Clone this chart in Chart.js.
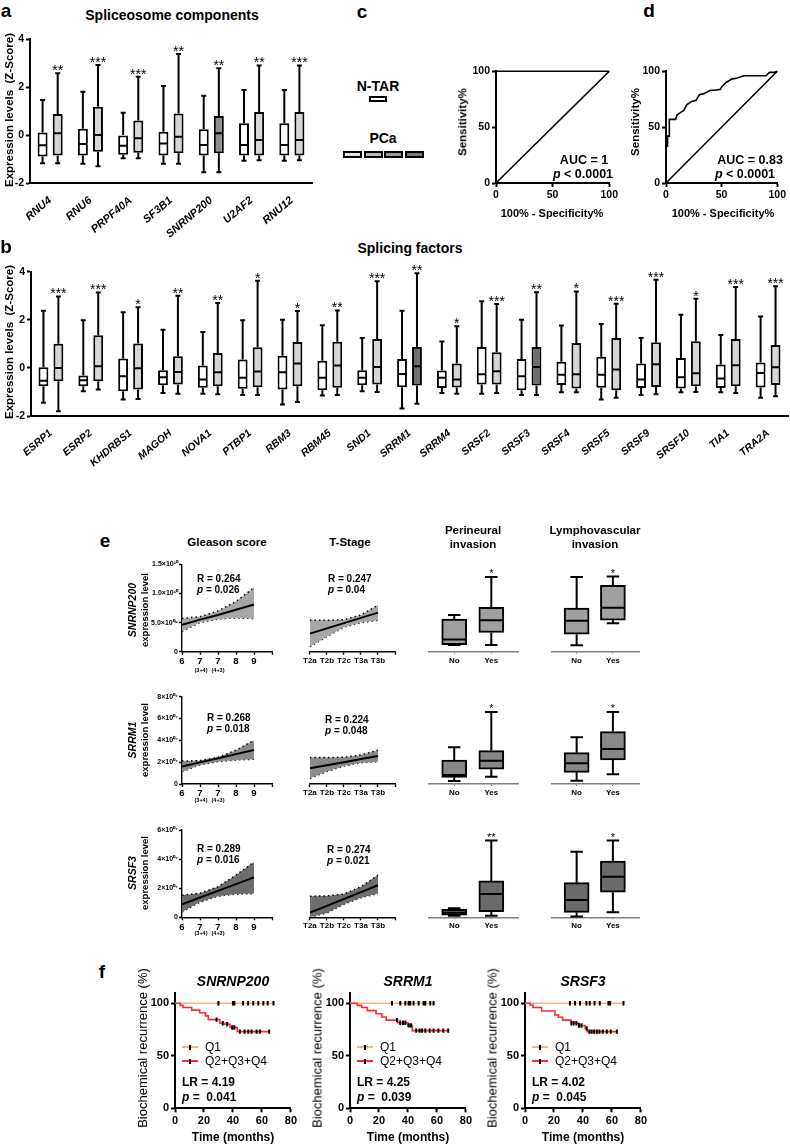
<!DOCTYPE html>
<html>
<head>
<meta charset="utf-8">
<script src="https://cdn.jsdelivr.net/npm/chart.js@4.4.1/dist/chart.umd.min.js"></script>
<style>
  body { margin: 0; background: #fff; font-family: "Liberation Sans", Arial, sans-serif; color: #000; }
  #fig { position: relative; width: 790px; height: 1147px; overflow: hidden; }
  canvas { position: absolute; }
  .t { position: absolute; white-space: nowrap; line-height: 1; }
  .sw { position: absolute; box-sizing: border-box; }
</style>
</head>
<body>
<div id="fig"></div>
<script>
/* ===== a: spliceosome components, Z-score [min, q1, median, q3, max] ===== */
const aGenes = ["RNU4", "RNU6", "PRPF40A", "SF3B1", "SNRNP200", "U2AF2", "RNU12"];
const aNtar = [
  [-1.18, -0.9, -0.43, 0.1, 1.46],
  [-1.2, -0.85, -0.37, 0.26, 1.8],
  [-0.97, -0.82, -0.45, 0.0, 0.93],
  [-1.2, -0.85, -0.35, 0.14, 2.04],
  [-1.55, -0.85, -0.42, 0.24, 1.64],
  [-1.07, -0.85, -0.42, 0.49, 1.87],
  [-1.07, -0.85, -0.42, 0.49, 1.87]
];
const aPca = [
  [-1.18, -0.85, 0.07, 0.87, 2.57],
  [-1.3, -0.7, 0.0, 1.18, 2.92],
  [-0.97, -0.74, -0.14, 0.6, 2.43],
  [-1.2, -0.76, -0.07, 0.9, 3.37],
  [-1.55, -0.76, 0.07, 0.79, 2.78],
  [-1.05, -0.85, -0.21, 0.96, 2.9],
  [-1.05, -0.85, -0.21, 0.96, 2.9]
];
const aStars = ["**", "***", "***", "**", "**", "**", "***"];

/* ===== b: splicing factors ===== */
const bGenes = ["ESRP1", "ESRP2", "KHDRBS1", "MAGOH", "NOVA1", "PTBP1", "RBM3", "RBM45", "SND1", "SRRM1",
  "SRRM4", "SRSF2", "SRSF3", "SRSF4", "SRSF5", "SRSF9", "SRSF10", "TIA1", "TRA2A"];
const bNtar = [
  [-1.45, -0.76, -0.53, 0.03, 2.38],
  [-0.97, -0.76, -0.51, -0.32, 1.98],
  [-1.31, -0.97, -0.35, 0.39, 2.31],
  [-1.04, -0.72, -0.39, -0.1, 1.59],
  [-1.07, -0.83, -0.48, 0.1, 1.49],
  [-1.13, -0.87, -0.41, 0.35, 1.98],
  [-1.52, -0.9, -0.18, 0.51, 2.0],
  [-1.15, -0.93, -0.41, 0.3, 1.77],
  [-0.97, -0.72, -0.41, -0.1, 1.24],
  [-1.69, -0.8, -0.25, 0.37, 2.38],
  [-1.04, -0.84, -0.41, -0.11, 1.1],
  [-1.08, -0.69, -0.26, 0.87, 2.77],
  [-1.13, -0.93, -0.35, 0.37, 2.0],
  [-1.01, -0.71, -0.28, 0.26, 1.76],
  [-1.31, -0.83, -0.29, 0.46, 1.83],
  [-1.13, -0.84, -0.48, 0.18, 1.24],
  [-1.01, -0.86, -0.39, 0.41, 2.21],
  [-1.01, -0.84, -0.44, 0.14, 1.37],
  [-1.24, -0.82, -0.21, 0.22, 2.14]
];
const bPca = [
  [-1.8, -0.55, 0.0, 1.0, 2.97],
  [-0.9, -0.55, 0.07, 1.36, 3.14],
  [-1.29, -0.9, -0.01, 1.01, 2.52],
  [-1.07, -0.69, -0.17, 0.48, 3.0],
  [-1.1, -0.76, -0.18, 0.62, 2.7],
  [-1.13, -0.8, -0.15, 0.86, 3.62],
  [-1.42, -0.76, 0.18, 1.08, 2.37],
  [-1.13, -0.83, 0.1, 1.09, 2.39],
  [-1.0, -0.69, 0.04, 1.2, 3.6],
  [-1.49, -0.73, 0.07, 0.87, 3.94],
  [-1.08, -0.82, -0.48, 0.18, 1.73],
  [-1.04, -0.69, -0.14, 0.65, 2.66],
  [-1.13, -0.73, 0.04, 0.87, 3.15],
  [-1.01, -0.86, -0.26, 1.04, 3.18],
  [-1.24, -0.93, -0.07, 1.24, 2.67],
  [-1.1, -0.79, 0.15, 1.07, 3.67],
  [-1.0, -0.76, -0.22, 1.11, 2.88],
  [-1.04, -0.76, 0.11, 1.2, 3.36],
  [-1.18, -0.71, 0.03, 0.95, 3.39]
];
const bStars = ["***", "***", "*", "**", "**", "*", "*", "**", "***", "**", "*", "***", "**", "*", "***", "***", "*", "***", "***"];
const zTicks = [-2, 0, 2, 4];

/* ===== c, d: ROC curves (%) ===== */
const rocTicks = [0, 50, 100];
const cFpr = [0, 0, 100];
const cTpr = [0, 100, 100];
const dFpr = [0, 0, 1.4, 1.4, 3, 3, 5, 8.6, 10, 13, 16, 18.6, 23, 27, 30, 34, 40, 44, 49, 50, 54, 59, 64, 70, 81, 90, 93, 97, 100];
const dTpr = [0, 33, 33, 42, 42, 57, 57, 57, 61, 63, 65, 70, 73, 74, 79, 80, 83, 83, 84, 86, 90, 93, 94, 96, 96, 96, 99, 99, 100];
const chance = [0, 100];

/* ===== e: clinical correlations ===== */
const gleasonTicks = ["6", "7", "7", "8", "9", ""];
const stageTicks = ["T2a", "T2b", "T2c", "T3a", "T3b", ""];
const trendX = [0, 1, 2, 3, 4];
const invGroups = ["No", "Yes"];
// SNRNP200, units of 10^9
const snrnpYTicks = ["0", "5.0×10⁰⁹", "1.0×10¹⁰", "1.5×10¹⁰"];
const snrnpGleFit = [4.6, 5.5, 6.3, 7.2, 8.1];
const snrnpGleUp = [5.7, 6.0, 7.0, 8.6, 11.0];
const snrnpGleLo = [3.5, 5.0, 5.6, 5.8, 5.7];
const snrnpStgFit = [3.1, 4.0, 4.9, 5.8, 6.7];
const snrnpStgUp = [5.4, 5.4, 5.5, 6.3, 8.0];
const snrnpStgLo = [0.85, 2.6, 4.2, 5.0, 5.4];
const snrnpPeri = [[1.15, 1.2, 2.1, 5.6, 6.3], [1.15, 3.3, 5.4, 7.6, 12.8]];
const snrnpLymph = [[1.1, 3.0, 5.3, 7.5, 12.8], [4.9, 5.4, 7.55, 11.4, 12.9]];
// SRRM1, units of 10^7
const srrmYTicks = ["0", "2×10⁰⁷", "4×10⁰⁷", "6×10⁰⁷", "8×10⁰⁷"];
const srrmGleFit = [1.6, 1.98, 2.36, 2.74, 3.12];
const srrmGleUp = [2.1, 2.15, 2.45, 3.1, 4.0];
const srrmGleLo = [1.13, 1.75, 2.05, 2.2, 2.27];
const srrmStgFit = [1.44, 1.72, 2.0, 2.29, 2.57];
const srrmStgUp = [2.42, 2.42, 2.45, 2.65, 3.1];
const srrmStgLo = [0.52, 1.15, 1.65, 1.95, 2.05];
const srrmPeri = [[0.28, 0.61, 0.83, 2.2, 3.37], [0.67, 1.35, 2.14, 3.06, 6.6]];
const srrmLymph = [[0.3, 1.07, 1.9, 2.87, 4.28], [0.89, 2.2, 3.21, 4.8, 6.6]];
// SRSF3, units of 10^7
const srsfYTicks = ["0", "2×10⁰⁷", "4×10⁰⁷", "6×10⁰⁷"];
const srsfGleFit = [0.9, 1.36, 1.82, 2.28, 2.74];
const srsfGleUp = [1.52, 1.65, 2.1, 2.9, 3.8];
const srsfGleLo = [0.37, 1.05, 1.45, 1.6, 1.63];
const srsfStgFit = [0.32, 0.79, 1.26, 1.73, 2.2];
const srsfStgUp = [1.45, 1.47, 1.6, 2.1, 2.9];
const srsfStgLo = [0, 0.3, 0.9, 1.35, 1.63];
const srsfPeri = [[0.1, 0.14, 0.32, 0.55, 0.62], [0.1, 0.39, 1.6, 2.5, 5.27]];
const srsfLymph = [[0.05, 0.34, 1.19, 2.38, 4.5], [0.34, 1.72, 2.78, 3.86, 5.27]];
const periStars = [["", "*"], ["", "*"], ["", "**"]];
const lymphStars = [["", "*"], ["", "*"], ["", "*"]];

/* ===== f: Kaplan-Meier, biochemical recurrence (%) ===== */
const kmXTicks = [0, 20, 40, 60, 80];
const kmYTicks = [0, 50, 100];
const snrnpKmT = [0, 3.5, 5.5, 11.5, 17, 21, 23, 31, 34.5, 38, 43, 65];
const snrnpKmS = [100, 98, 96, 93.5, 91, 88, 84.5, 81, 80, 77, 73, 73];
const snrnpQ1End = 68;
const snrnpQ1Cens = [30, 40, 41, 47, 50.5, 54, 57.5, 61, 64, 68];
const snrnpCensT = [28.7, 33, 36, 39.5, 41, 44.8, 48, 50.6, 52.9, 56.3, 58.6, 65];
const snrnpCensS = [84.5, 81, 80, 77, 77, 73, 73, 73, 73, 73, 73, 73];
const srrmKmT = [0, 5, 8, 12, 18, 22, 25, 33, 40, 43, 68];
const srrmKmS = [100, 98, 96, 93, 90, 87, 84, 81.5, 79, 74, 74];
const srrmQ1End = 58.6;
const srrmQ1Cens = [29, 34.7, 38.2, 40.5, 41.6, 43.9, 47.4, 50.8, 52, 55.4, 57.7];
const srrmCensT = [32.4, 34.7, 36.6, 38.2, 40.5, 42.1, 45.7, 48, 49.7, 52, 55, 57.7, 61, 64.4, 67.8];
const srrmCensS = [84, 81.5, 81.5, 81.5, 79, 79, 74, 74, 74, 74, 74, 74, 74, 74, 74];
const srsfKmT = [0, 3.5, 5.5, 11.5, 20.7, 23, 26, 32, 37, 41.5, 43, 63.4];
const srsfKmS = [100, 98.4, 96, 92.7, 89, 86.7, 84, 81, 78.8, 76, 73, 73];
const srsfQ1End = 68;
const srsfQ1Cens = [31, 34.5, 38, 42.4, 44.7, 48, 51.6, 57.6, 58.8, 68];
const srsfCensT = [32, 33.6, 35.5, 37.3, 39, 42.6, 44.5, 46, 47.7, 49.6, 51.4, 53.7, 56.5, 59.2, 63.4];
const srsfCensS = [81, 81, 81, 78.8, 78.8, 76, 73, 73, 73, 73, 73, 73, 73, 73, 73];

/* ===== Helpers ===== */
Chart.defaults.font.family = '"Liberation Sans", Arial, sans-serif';
Chart.defaults.color = "#000";
Chart.defaults.animation = false;
Chart.defaults.events = [];
Chart.defaults.plugins.legend.display = false;
Chart.defaults.plugins.tooltip.enabled = false;

const fig = document.getElementById("fig");
const Q1C = "#f4b483", REDC = "#ff2b2b";
const geneShade = { SNRNP200: "#8e8e8e", SRRM1: "#6f6f6f", SRSF3: "#6f6f6f" };

// whiskers, medians and stars on top of floating bars
const boxPlot = {
  id: "boxPlot",
  afterDatasetsDraw(chart) {
    const ctx = chart.ctx, y = chart.scales.y;
    chart.data.datasets.forEach((ds, i) => {
      if (!ds.whiskers) return;
      chart.getDatasetMeta(i).data.forEach((bar, j) => {
        const [mn, q1, md, q3, mx] = ds.whiskers[j].map(v => y.getPixelForValue(v));
        const x = bar.x, hw = bar.width / 2, cap = bar.width * ds.capRatio;
        ctx.save();
        ctx.strokeStyle = "#000"; ctx.lineWidth = ds.borderWidth;
        ctx.beginPath();
        ctx.moveTo(x, q3); ctx.lineTo(x, mx);
        ctx.moveTo(x - cap, mx); ctx.lineTo(x + cap, mx);
        ctx.moveTo(x, q1); ctx.lineTo(x, mn);
        ctx.moveTo(x - cap, mn); ctx.lineTo(x + cap, mn);
        ctx.moveTo(x - hw + 1, md); ctx.lineTo(x + hw - 1, md);
        ctx.stroke();
        if (ds.stars && ds.stars[j]) {
          ctx.fillStyle = "#000";
          ctx.font = ds.starSize + 'px "Liberation Sans", Arial, sans-serif';
          ctx.textAlign = "center"; ctx.textBaseline = "alphabetic";
          ctx.fillText(ds.stars[j], x, mx + ds.starShift);
        }
        ctx.restore();
      });
    });
  }
};
Chart.register(boxPlot);

// area = plot box on the page [x0, y0, x1, y1], m = room for axes [l, t, r, b]
function canvasFor(area, m) {
  const left = Math.floor(area[0] - m[0]), top = Math.floor(area[1] - m[1]);
  const w = Math.ceil(area[2] + m[2]) - left, h = Math.ceil(area[3] + m[3]) - top;
  const c = document.createElement("canvas");
  c.width = w; c.height = h;
  Object.assign(c.style, { left: left + "px", top: top + "px", width: w + "px", height: h + "px" });
  fig.appendChild(c);
  return { c, l: area[0] - left, t: area[1] - top, r: left + w - area[2], b: top + h - area[3] };
}

function draw(area, m, type, data, scales, showY) {
  const k = canvasFor(area, m);
  scales.x.afterFit = s => { s.height = k.b; };
  if (showY) scales.y.afterFit = s => { s.width = k.l; };
  return new Chart(k.c, {
    type, data,
    options: {
      responsive: false, maintainAspectRatio: false,
      layout: { autoPadding: false, padding: { left: showY ? 0 : k.l, top: k.t, right: k.r, bottom: 0 } },
      scales
    }
  });
}

const tickGrid = (len, w, color = "#000") => ({ display: true, offset: false, drawOnChartArea: false, drawTicks: true, tickLength: len, tickWidth: w, tickColor: color });
const bold = size => ({ weight: "bold", size });
const fixedTicks = list => s => { s.ticks = list.map(v => ({ value: v })); };

function txt(html, x, y, css, anchor = "c") {
  const d = document.createElement("div");
  d.className = "t";
  d.innerHTML = html;
  d.style.cssText = css;
  d.style.left = x + "px"; d.style.top = y + "px";
  d.style.transform = {
    c: "translate(-50%,-50%)", l: "translate(0,-50%)", r: "translate(-100%,-50%)",
    v: "translate(-50%,-50%) rotate(-90deg)"
  }[anchor];
  fig.appendChild(d);
}
function swatch(x, y, w, h, css) {
  const d = document.createElement("div");
  d.className = "sw";
  d.style.cssText = `left:${x}px;top:${y}px;width:${w}px;height:${h}px;` + css;
  fig.appendChild(d);
}

/* ===== a, b: paired box plots ===== */
function pairedBoxes(area, m, genes, ntar, pca, stars, fontSize) {
  const q = rows => rows.map(r => [r[1], r[3]]);
  const common = { borderColor: "#000", borderWidth: 2, borderSkipped: false, categoryPercentage: 0.75, barPercentage: 0.66, capRatio: 0.25 };
  draw(area, m, "bar", {
    labels: genes,
    datasets: [
      { data: q(ntar), backgroundColor: "#fff", whiskers: ntar, ...common },
      { data: q(pca), backgroundColor: genes.map(g => geneShade[g] || "#d6d6d6"), whiskers: pca,
        stars, starSize: 14, starShift: 2, ...common }
    ]
  }, {
    x: {
      grid: { display: false }, border: { color: "#000", width: 2 },
      ticks: { autoSkip: false, minRotation: 40, maxRotation: 40, padding: 3,
        font: { weight: "bold", style: "italic", size: fontSize } }
    },
    y: {
      min: -2, max: 4, afterBuildTicks: fixedTicks(zTicks),
      grid: tickGrid(4, 2), border: { color: "#000", width: 2 },
      ticks: { padding: 2, font: bold(10.5) }
    }
  }, true);
}
pairedBoxes([30, 39, 312, 183], [30, 12, 3, 62], aGenes, aNtar, aPca, aStars, 11);
pairedBoxes([31, 271.7, 788, 416], [31, 12, 2, 56], bGenes, bNtar, bPca, bStars, 10.5);

/* ===== c, d: ROC ===== */
function roc(area, fpr, tpr) {
  const line = { showLine: true, pointRadius: 0, borderColor: "#000", borderWidth: 1.6, clip: false };
  const axis = { min: 0, max: 100, afterBuildTicks: fixedTicks(rocTicks), grid: tickGrid(4, 2),
    border: { color: "#000", width: 2 }, ticks: { padding: 2, font: bold(10.5) } };
  draw(area, [32, 6, 10, 22], "scatter", {
    datasets: [
      { data: fpr.map((x, i) => ({ x, y: tpr[i] })), ...line },
      { data: chance.map(v => ({ x: v, y: v })), ...line }
    ]
  }, { x: { type: "linear", ...axis }, y: { ...axis } }, true);
}
roc([496, 69, 610, 183], cFpr, cTpr);
roc([666, 69, 778, 183], dFpr, dTpr);

/* ===== e: trends and invasion boxes ===== */
function trend(area, ticks, size, fit, up, lo, shade, yMax, yStep, yLabels) {
  const showY = !!yLabels;
  const pts = arr => trendX.map((x, i) => ({ x, y: arr[i] }));
  const dots = { borderColor: "#000", borderWidth: 1.5, borderDash: [1.5, 3], pointRadius: 0, clip: false };
  draw(area, showY ? [42, 8, 4, 18] : [4, 8, 4, 18], "line", {
    datasets: [
      { data: pts(up), fill: "+1", backgroundColor: shade, order: 2, ...dots },
      { data: pts(lo), fill: false, order: 2, ...dots },
      { data: pts(fit), borderColor: "#000", borderWidth: 2, pointRadius: 0, order: 1 }
    ]
  }, {
    x: {
      type: "linear", min: 0, max: 5, grid: tickGrid(3, 1.4), border: { color: "#000", width: 1.4 },
      ticks: { stepSize: 1, autoSkip: false, maxRotation: 0, padding: 1, font: bold(size), callback: (v, i) => ticks[i] }
    },
    y: {
      display: showY, min: 0, max: yMax, grid: tickGrid(3, 1.4), border: { color: "#000", width: 1.4 },
      ticks: { stepSize: yStep, padding: 1, font: bold(7), callback: (v, i) => (yLabels ? yLabels[i] : "") }
    }
  }, showY);
}

function invasion(area, groups, stars, fill, yMax) {
  draw(area, [4, 16, 4, 16], "bar", {
    datasets: [{
      data: groups.map((g, i) => ({ x: i, y: [g[1], g[3]] })),
      whiskers: groups, stars, starSize: 11, starShift: 0, capRatio: 0.25,
      backgroundColor: fill, borderColor: "#000", borderWidth: 2, borderSkipped: false, barThickness: 25
    }]
  }, {
    x: {
      type: "linear", offset: false, min: -0.68, max: 1.72, afterBuildTicks: fixedTicks([0, 1]),
      grid: tickGrid(2, 1.2, "#777"), border: { color: "#808080", width: 1.5 },
      ticks: { autoSkip: false, maxRotation: 0, padding: 2, font: bold(8), callback: v => invGroups[v] }
    },
    y: { display: false, min: 0, max: yMax }
  }, false);
}

const rows = [
  { y: [564.3, 651.7], max: 15, step: 5, labels: snrnpYTicks, band: "#a7a7a7", box: "#a0a0a0",
    gle: [snrnpGleFit, snrnpGleUp, snrnpGleLo], stg: [snrnpStgFit, snrnpStgUp, snrnpStgLo], peri: snrnpPeri, lymph: snrnpLymph },
  { y: [696.7, 784], max: 8, step: 2, labels: srrmYTicks, band: "#8a8a8a", box: "#878787",
    gle: [srrmGleFit, srrmGleUp, srrmGleLo], stg: [srrmStgFit, srrmStgUp, srrmStgLo], peri: srrmPeri, lymph: srrmLymph },
  { y: [830, 917.3], max: 6, step: 2, labels: srsfYTicks, band: "#6d6d6d", box: "#6a6a6a",
    gle: [srsfGleFit, srsfGleUp, srsfGleLo], stg: [srsfStgFit, srsfStgUp, srsfStgLo], peri: srsfPeri, lymph: srsfLymph }
];
rows.forEach((r, i) => {
  trend([182, r.y[0], 272, r.y[1]], gleasonTicks, 9.5, ...r.gle, r.band, r.max, r.step, r.labels);
  trend([306, r.y[0], 395, r.y[1]], stageTicks, 8, ...r.stg, r.band, r.max, r.step, null);
  invasion([429, r.y[0], 518, r.y[1]], r.peri, periStars[i], r.box, r.max);
  invasion([552, r.y[0], 639, r.y[1]], r.lymph, lymphStars[i], r.box, r.max);
});

/* ===== f: Kaplan-Meier ===== */
function km(area, stepT, stepS, q1End, q1Cens, censT, censS) {
  const mark = { showLine: false, pointStyle: "line", rotation: 90, pointRadius: 2.2, borderColor: "#000", borderWidth: 2, order: 0 };
  draw(area, [30, 12, 8, 22], "line", {
    datasets: [
      { data: [{ x: 0, y: 100 }, { x: q1End, y: 100 }], borderColor: Q1C, borderWidth: 1.6, pointRadius: 0, order: 2 },
      { data: stepT.map((t, i) => ({ x: t, y: stepS[i] })), stepped: true, borderColor: REDC, borderWidth: 1.6, pointRadius: 0, order: 1 },
      { data: q1Cens.map(t => ({ x: t, y: 100 })), ...mark },
      { data: censT.map((t, i) => ({ x: t, y: censS[i] })), ...mark }
    ]
  }, {
    x: { type: "linear", min: 0, max: 80, afterBuildTicks: fixedTicks(kmXTicks), grid: tickGrid(4, 2),
      border: { color: "#000", width: 2 }, ticks: { maxRotation: 0, padding: 2, font: bold(11) } },
    y: { min: 0, max: 110, afterBuildTicks: fixedTicks(kmYTicks), grid: tickGrid(4, 2),
      border: { color: "#000", width: 2 }, ticks: { padding: 2, font: bold(11) } }
  }, true);
}
km([175, 992.8, 291, 1108.3], snrnpKmT, snrnpKmS, snrnpQ1End, snrnpQ1Cens, snrnpCensT, snrnpCensS);
km([350, 992.8, 466, 1108.3], srrmKmT, srrmKmS, srrmQ1End, srrmQ1Cens, srrmCensT, srrmCensS);
km([525, 992.8, 641, 1108.3], srsfKmT, srsfKmS, srsfQ1End, srsfQ1Cens, srsfCensT, srsfCensS);

/* ===== Text ===== */
const B = "font-weight:bold;";
const L = "font-weight:bold;font-size:19px;";
txt("a", 6, 10, L); txt("c", 362, 11, L); txt("d", 649, 10, L);
txt("b", 6, 246, L); txt("e", 105, 540, L); txt("f", 102, 971, L);

txt("Spliceosome components", 172, 15, B + "font-size:14px;");
txt("Expression levels&nbsp;&nbsp;(Z-Score)", 10, 110, B + "font-size:11.5px;", "v");
txt("N-TAR", 378, 86, B + "font-size:14px;");
swatch(369, 96, 18, 6, "border:2px solid #000;background:#fff;");
txt("PCa", 383, 138, B + "font-size:14px;");
["#e2e2e2", "#b8b8b8", "#9a9a9a", "#7a7a7a"].forEach((c, i) =>
  swatch(343 + i * 20.5, 151, 19, 6.5, "border:2px solid #000;background:" + c + ";"));

txt("Sensitivity%", 463, 122, B + "font-size:11.5px;", "v");
txt("Sensitivity%", 636, 122, B + "font-size:11.5px;", "v");
txt("AUC = 1", 584, 160, B + "font-size:12.5px;");
txt("<i>p</i> &lt; 0.0001", 583, 174, B + "font-size:12.5px;");
txt("AUC = 0.83", 750, 160, B + "font-size:12.5px;");
txt("<i>p</i> &lt; 0.0001", 745, 174, B + "font-size:12.5px;");
txt("100% - Specificity%", 552, 213, B + "font-size:11px;");
txt("100% - Specificity%", 723, 213, B + "font-size:11px;");

txt("Splicing factors", 410, 248, B + "font-size:14px;");
txt("Expression levels&nbsp;&nbsp;(Z-Score)", 10, 342, B + "font-size:11.5px;", "v");

txt("Gleason score", 227, 543, B + "font-size:11.5px;");
txt("T-Stage", 350, 543, B + "font-size:11.5px;");
txt("Perineural<br>invasion", 473, 537, B + "font-size:11.5px;text-align:center;line-height:14px;");
txt("Lymphovascular<br>invasion", 595, 537, B + "font-size:11.5px;text-align:center;line-height:14px;");
const rowTitle = g => `<span style="font-style:italic;font-size:10.5px">${g}</span><br>expression level`;
txt(rowTitle("SNRNP200"), 138, 610, B + "font-size:9.5px;text-align:center;line-height:12px;", "v");
txt(rowTitle("SRRM1"), 138, 740, B + "font-size:9.5px;text-align:center;line-height:12px;", "v");
txt(rowTitle("SRSF3"), 138, 873, B + "font-size:9.5px;text-align:center;line-height:12px;", "v");
const RP = B + "font-size:10px;";
[[197, 579, "0.264", "0.026"], [328, 579, "0.247", "0.04"], [207, 718, "0.268", "0.018"],
 [325, 720, "0.224", "0.048"], [197, 849, "0.289", "0.016"], [327, 850, "0.274", "0.021"]].forEach(([x, y, r, p]) => {
  txt("R = " + r, x, y, RP, "l");
  txt("<i>p</i> = " + p, x, y + 11, RP, "l");
});
[671, 801, 934].forEach(y => {
  txt("(3+4)", 201, y, B + "font-size:5.5px;");
  txt("(4+3)", 218, y, B + "font-size:5.5px;");
});

[["SNRNP200", "4.19", "0.041"], ["SRRM1", "4.25", "0.039"], ["SRSF3", "4.02", "0.045"]].forEach(([g, lr, p], i) => {
  const dx = i * 175;
  txt(g, 233 + dx, 981, B + "font-style:italic;font-size:14px;");
  txt("Biochemical recurrence (%)", 142 + dx, 1048, "font-size:13px;", "v");
  txt("Time (months)", 233 + dx, 1137, B + "font-size:12px;");
  swatch(182 + dx, 1046, 16, 2, "background:" + Q1C + ";");
  swatch(189 + dx, 1044.5, 1.5, 5, "background:#000;");
  swatch(182 + dx, 1060, 16, 2, "background:" + REDC + ";");
  swatch(189 + dx, 1058.5, 1.5, 5, "background:#000;");
  txt("Q1", 205 + dx, 1047, "font-size:12px;", "l");
  txt("Q2+Q3+Q4", 205 + dx, 1061, "font-size:12px;", "l");
  txt("LR = " + lr, 182 + dx, 1082, B + "font-size:12px;", "l");
  txt("<i>p</i> =&nbsp; " + p, 182 + dx, 1097, B + "font-size:12px;", "l");
});
</script>
</body>
</html>
